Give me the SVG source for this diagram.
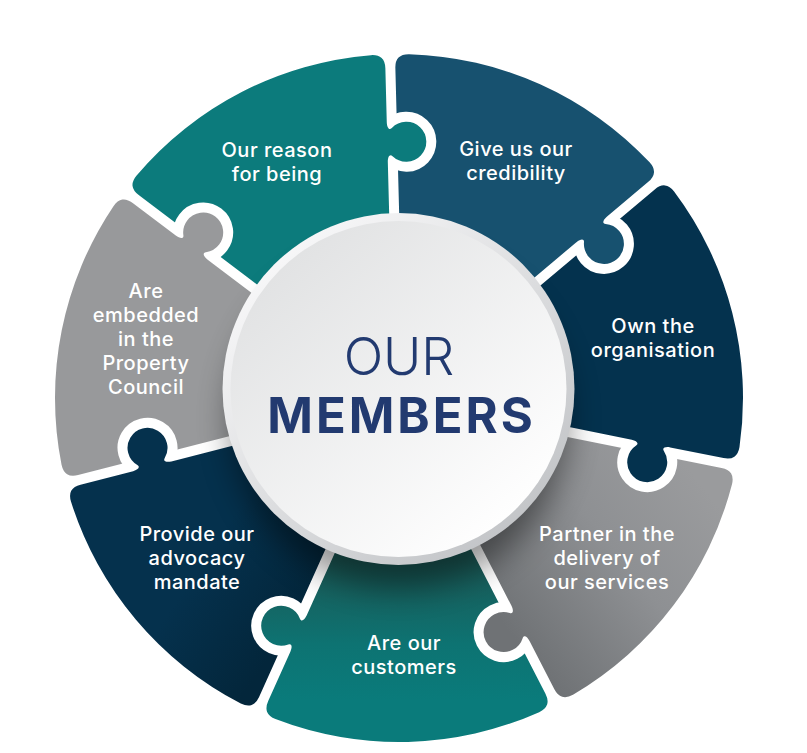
<svg xmlns="http://www.w3.org/2000/svg" xmlns:xlink="http://www.w3.org/1999/xlink" width="807" height="753" viewBox="0 0 807 753">
<style>
.sock{fill:#000;stroke:#000;stroke-width:20;stroke-linejoin:round}
.lbl{font-family:Inter,"Open Sans","DejaVu Sans",sans-serif;font-size:20px;font-weight:500;letter-spacing:0.5px;fill:#fff;text-anchor:middle}
.ctr{font-family:Inter,"Open Sans","DejaVu Sans",sans-serif;fill:#223a70;text-anchor:middle}
</style>
<defs>
<path id="knob" d="M20,-9 L20,-5 C15,-5 11.31,-2.97 14.14,-0.14 A20 20 0 1 1 -14.14,-0.14 C-11.31,-2.97 -15,-5 -20,-5 L-20,-9 Z"/>
<linearGradient id="gGray2" gradientUnits="userSpaceOnUse" x1="500" y1="620" x2="690" y2="470">
<stop offset="0" stop-color="#6f7275"/><stop offset="0.55" stop-color="#8e9093"/><stop offset="1" stop-color="#9a9b9d"/>
</linearGradient>
<linearGradient id="gTeal3" gradientUnits="userSpaceOnUse" x1="400" y1="560" x2="400" y2="700">
<stop offset="0" stop-color="#1b5855"/><stop offset="0.6" stop-color="#0d7372"/><stop offset="1" stop-color="#0a7b7b"/>
</linearGradient>
<linearGradient id="gNavy4" gradientUnits="userSpaceOnUse" x1="320" y1="580" x2="230" y2="520">
<stop offset="0" stop-color="#03263b"/><stop offset="1" stop-color="#05314d"/>
</linearGradient>
<linearGradient id="gRim" x1="0.15" y1="0.1" x2="0.85" y2="0.9">
<stop offset="0" stop-color="#f8f8f9"/><stop offset="1" stop-color="#c2c4c7"/>
</linearGradient>
<linearGradient id="gFace" x1="0.15" y1="0.1" x2="0.85" y2="0.9">
<stop offset="0" stop-color="#e1e2e3"/><stop offset="1" stop-color="#ffffff"/>
</linearGradient>
<filter id="blur" x="-40%" y="-40%" width="180%" height="180%"><feGaussianBlur stdDeviation="16"/></filter>

<clipPath id="c0"><path d="M399.81,237.92 L395.36,67.98 Q394.99,53.99 409.03,54.15 A344,344 0 0 1 649.60,162.34 Q659.03,172.73 648.31,181.74 L518.22,291.17 Z"/><use xlink:href="#knob" transform="translate(594.90,233.20) rotate(-40.0714)"/></clipPath>
<clipPath id="c1"><path d="M524.66,298.83 L654.75,189.39 Q665.46,180.38 674.09,191.45 A344,344 0 0 1 739.50,446.99 Q737.25,460.84 723.52,458.08 L556.85,424.61 Z"/><use xlink:href="#knob" transform="translate(649.99,448.41) rotate(11.3571)"/></clipPath>
<clipPath id="c2"><path d="M554.88,434.41 L721.55,467.89 Q735.28,470.64 732.00,484.29 A344,344 0 0 1 573.00,694.75 Q560.77,701.63 554.36,689.18 L476.62,538.00 Z"/><use xlink:href="#knob" transform="translate(516.07,625.66) rotate(62.7857)"/></clipPath>
<clipPath id="c3"><path d="M467.72,542.58 L545.47,693.76 Q551.87,706.21 539.16,712.15 A344,344 0 0 1 275.47,719.06 Q262.47,713.79 268.21,701.02 L337.94,545.97 Z"/><use xlink:href="#knob" transform="translate(294.00,631.48) rotate(114.2143)"/></clipPath>
<clipPath id="c4"><path d="M328.82,541.87 L259.09,696.92 Q253.35,709.68 240.77,703.46 A344,344 0 0 1 70.97,501.60 Q66.98,488.14 80.55,484.67 L245.24,442.52 Z"/><use xlink:href="#knob" transform="translate(151.00,461.48) rotate(165.6429)"/></clipPath>
<clipPath id="c5"><path d="M242.76,432.83 L78.07,474.98 Q64.50,478.46 61.54,464.74 A344,344 0 0 1 113.48,206.13 Q121.51,194.62 132.68,203.06 L268.32,305.54 Z"/><use xlink:href="#knob" transform="translate(194.74,243.68) rotate(217.0714)"/></clipPath>
<clipPath id="c6"><path d="M274.35,297.56 L138.71,195.08 Q127.54,186.64 136.41,175.77 A344,344 0 0 1 370.99,55.14 Q385.00,54.25 385.36,68.24 L389.81,238.19 Z"/><use xlink:href="#knob" transform="translate(392.30,142.09) rotate(-91.5)"/></clipPath>

<mask id="m0" maskUnits="userSpaceOnUse" x="0" y="0" width="807" height="753"><rect width="807" height="753" fill="#fff"/><use xlink:href="#knob" class="sock" transform="translate(392.30,142.09) rotate(-91.5)"/></mask>
<mask id="m1" maskUnits="userSpaceOnUse" x="0" y="0" width="807" height="753"><rect width="807" height="753" fill="#fff"/><use xlink:href="#knob" class="sock" transform="translate(594.90,233.20) rotate(-40.0714)"/></mask>
<mask id="m2" maskUnits="userSpaceOnUse" x="0" y="0" width="807" height="753"><rect width="807" height="753" fill="#fff"/><use xlink:href="#knob" class="sock" transform="translate(649.99,448.41) rotate(11.3571)"/></mask>
<mask id="m3" maskUnits="userSpaceOnUse" x="0" y="0" width="807" height="753"><rect width="807" height="753" fill="#fff"/><use xlink:href="#knob" class="sock" transform="translate(516.07,625.66) rotate(62.7857)"/></mask>
<mask id="m4" maskUnits="userSpaceOnUse" x="0" y="0" width="807" height="753"><rect width="807" height="753" fill="#fff"/><use xlink:href="#knob" class="sock" transform="translate(294.00,631.48) rotate(114.2143)"/></mask>
<mask id="m5" maskUnits="userSpaceOnUse" x="0" y="0" width="807" height="753"><rect width="807" height="753" fill="#fff"/><use xlink:href="#knob" class="sock" transform="translate(151.00,461.48) rotate(165.6429)"/></mask>
<mask id="m6" maskUnits="userSpaceOnUse" x="0" y="0" width="807" height="753"><rect width="807" height="753" fill="#fff"/><use xlink:href="#knob" class="sock" transform="translate(194.74,243.68) rotate(217.0714)"/></mask>
</defs>

<rect width="807" height="753" fill="#ffffff"/>

<g id="piece-reason">
<rect width="807" height="753" fill="#0c7b7c" clip-path="url(#c6)" mask="url(#m6)"/>
</g>
<g id="piece-credibility">
<rect width="807" height="753" fill="#17516f" clip-path="url(#c0)" mask="url(#m0)"/>
</g>
<g id="piece-own">
<rect width="807" height="753" fill="#04324e" clip-path="url(#c1)" mask="url(#m1)"/>
</g>
<g id="piece-partner">
<rect width="807" height="753" fill="url(#gGray2)" clip-path="url(#c2)" mask="url(#m2)"/>
</g>
<g id="piece-customers">
<rect width="807" height="753" fill="url(#gTeal3)" clip-path="url(#c3)" mask="url(#m3)"/>
</g>
<g id="piece-advocacy">
<rect width="807" height="753" fill="url(#gNavy4)" clip-path="url(#c4)" mask="url(#m4)"/>
</g>
<g id="piece-embedded">
<rect width="807" height="753" fill="#98999b" clip-path="url(#c5)" mask="url(#m5)"/>
</g>

<circle cx="399" cy="418" r="170" fill="#000" opacity="0.42" filter="url(#blur)"/>

<g id="center">
<circle cx="398.5" cy="389" r="176" fill="url(#gRim)"/>
<circle cx="398.5" cy="389" r="168" fill="url(#gFace)"/>
<text class="ctr" x="399" y="375" font-size="52" font-weight="300">OUR</text>
<text class="ctr" x="401.5" y="433" font-size="49" font-weight="700" letter-spacing="3">MEMBERS</text>
</g>

<g id="label-reason"><text class="lbl" x="277" y="157">Our reason</text><text class="lbl" x="277" y="181">for being</text></g>
<g id="label-credibility"><text class="lbl" x="516" y="156">Give us our</text><text class="lbl" x="516" y="180">credibility</text></g>
<g id="label-own"><text class="lbl" x="653" y="333">Own the</text><text class="lbl" x="653" y="357">organisation</text></g>
<g id="label-partner"><text class="lbl" x="607" y="541">Partner in the</text><text class="lbl" x="607" y="565">delivery of</text><text class="lbl" x="607" y="589">our services</text></g>
<g id="label-customers"><text class="lbl" x="404" y="650">Are our</text><text class="lbl" x="404" y="674">customers</text></g>
<g id="label-advocacy"><text class="lbl" x="197" y="541">Provide our</text><text class="lbl" x="197" y="565">advocacy</text><text class="lbl" x="197" y="589">mandate</text></g>
<g id="label-embedded"><text class="lbl" x="146" y="298">Are</text><text class="lbl" x="146" y="322">embedded</text><text class="lbl" x="146" y="346">in the</text><text class="lbl" x="146" y="370">Property</text><text class="lbl" x="146" y="394">Council</text></g>
</svg>
